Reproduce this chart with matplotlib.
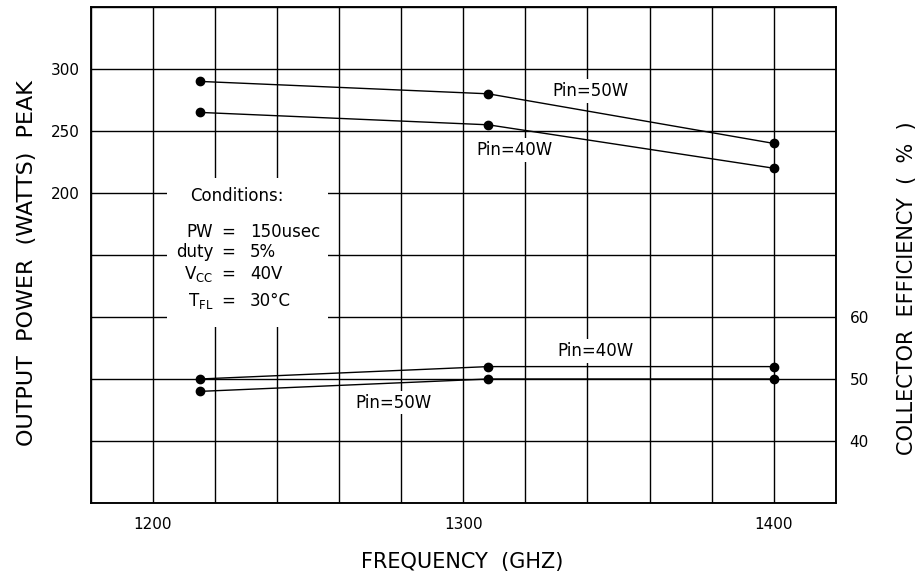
import matplotlib
matplotlib.use("Agg")
import matplotlib.pyplot as plt
from matplotlib.patches import Rectangle

# Data
freq = [1215, 1308, 1400]  # frequency (as labelled, GHz)
power_pin50 = [290, 280, 240]  # output power peak, Pin=50W (W)
power_pin40 = [265, 255, 220]  # output power peak, Pin=40W (W)
eff_pin40 = [50, 52, 52]  # collector efficiency, Pin=40W (%)
eff_pin50 = [48, 50, 50]  # collector efficiency, Pin=50W (%)

x_ticks = list(range(1180, 1421, 20))
x_labels = {1200: "1200", 1300: "1300", 1400: "1400"}
power_ticks = list(range(-50, 351, 50))
power_labels = {200: "200", 250: "250", 300: "300"}
eff_ticks = [40, 50, 60]

cond_names = ["PW", "duty", r"V$_{\mathregular{CC}}$", r"T$_{\mathregular{FL}}$"]
cond_values = ["150usec", "5%", "40V", "30°C"]

plt.rcParams["font.family"] = "DejaVu Sans"

fig = plt.figure(figsize=(9.18, 5.78), dpi=100)
ax = fig.add_axes([91 / 918, 75 / 578, 744.7 / 918, 496 / 578])
ax2 = ax.twinx()

# grid and frame
ax.set_xlim(1180, 1420)
ax.set_ylim(-50, 350)
ax2.set_ylim(30, 110)
ax.set_xticks(x_ticks)
ax.set_xticklabels([x_labels.get(t, "") for t in x_ticks], fontsize=11)
ax.set_yticks(power_ticks)
ax.set_yticklabels([power_labels.get(t, "") for t in power_ticks], fontsize=11)
ax2.set_yticks(eff_ticks)
ax2.set_yticklabels([str(t) for t in eff_ticks], fontsize=11)
ax.grid(True, color="black", linewidth=1.0)
ax.set_axisbelow(True)
ax.tick_params(axis="x", length=0, pad=10)
ax.tick_params(axis="y", length=0, pad=8)
ax2.tick_params(axis="y", length=0, pad=10)
for a in (ax, ax2):
    for s in a.spines.values():
        s.set_linewidth(1.1)

# white box behind the conditions text
ax.add_patch(Rectangle((0.102, 0.355), 0.216, 0.30, transform=ax.transAxes,
                       facecolor="white", edgecolor="none", zorder=1))

# power curves (left axis)
ax.plot(freq, power_pin50, color="black", linewidth=1.0, marker="o", markersize=6, zorder=3)
ax.plot(freq, power_pin40, color="black", linewidth=1.0, marker="o", markersize=6, zorder=3)
# efficiency curves (right axis)
ax2.plot(freq, eff_pin40, color="black", linewidth=1.0, marker="o", markersize=6, zorder=3)
ax2.plot(freq, eff_pin50, color="black", linewidth=1.0, marker="o", markersize=6, zorder=3)

# curve labels, white background breaks the grid like the original
box = dict(facecolor="white", edgecolor="none", pad=2)
ax.text(1341, 282.5, "Pin=50W", ha="center", va="center", fontsize=12, bbox=box, zorder=4)
ax.text(1316.6, 234.7, "Pin=40W", ha="center", va="center", fontsize=12, bbox=box, zorder=4)
ax2.text(1342.7, 54.5, "Pin=40W", ha="center", va="center", fontsize=12, bbox=box, zorder=4)
ax2.text(1277.6, 46.2, "Pin=50W", ha="center", va="center", fontsize=12, bbox=box, zorder=4)

# conditions block
ax.text(0.196, 0.618, "Conditions:", transform=ax.transAxes, ha="center", va="center",
        fontsize=12, zorder=4)
rows_y = [0.546, 0.506, 0.462, 0.407]
for name, val, y in zip(cond_names, cond_values, rows_y):
    ax.text(0.164, y, name, transform=ax.transAxes, ha="right", va="center", fontsize=12, zorder=4)
    ax.text(0.184, y, "=", transform=ax.transAxes, ha="center", va="center", fontsize=12, zorder=4)
    ax.text(0.2135, y, val, transform=ax.transAxes, ha="left", va="center", fontsize=12, zorder=4)

# axis titles
fig.text(462 / 918, 1 - 562 / 578, "FREQUENCY  (GHZ)", ha="center", va="center", fontsize=15)
fig.text(27.5 / 918, 1 - 263.5 / 578, "OUTPUT  POWER  (WATTS)  PEAK", ha="center", va="center",
         rotation=90, fontsize=16)
fig.text(907 / 918, 1 - 288 / 578, "COLLECTOR  EFFICIENCY  (  %  )", ha="center", va="center",
         rotation=90, fontsize=15)

fig.savefig("out.png", dpi=100)
